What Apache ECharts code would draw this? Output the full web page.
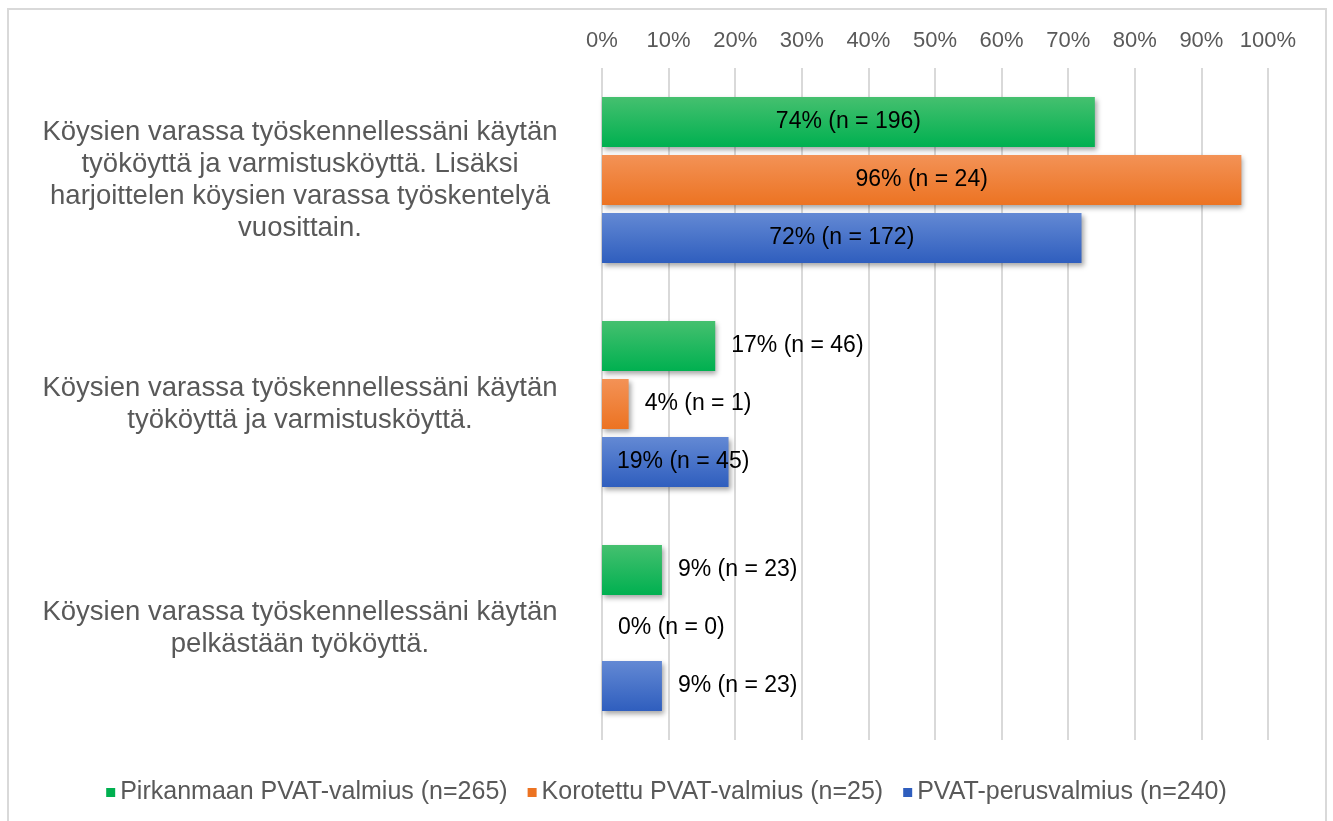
<!DOCTYPE html>
<html>
<head>
<meta charset="utf-8">
<script src="https://cdn.jsdelivr.net/npm/echarts@6/dist/echarts.min.js"></script>
<style>
  html, body { margin: 0; padding: 0; background: #fff; }
  #chart { width: 1333px; height: 821px; }
</style>
</head>
<body>
<div id="chart"></div>
<script>
// kategoriat (ylhäältä alas)
const categories = [
  "Köysien varassa työskennellessäni käytän\ntyököyttä ja varmistusköyttä. Lisäksi\nharjoittelen köysien varassa työskentelyä\nvuosittain.",
  "Köysien varassa työskennellessäni käytän\ntyököyttä ja varmistusköyttä.",
  "Köysien varassa työskennellessäni käytän\npelkästään työköyttä."
];
const seriesNames = [
  "Pirkanmaan PVAT-valmius (n=265)",
  "Korotettu PVAT-valmius (n=25)",
  "PVAT-perusvalmius (n=240)"
];
// prosentit
const pirkanmaaPct = [74, 17, 9];
const korotettuPct = [96, 4, 0];
const perusPct = [72, 19, 9];
// vastaajien lukumäärät
const pirkanmaaN = [196, 46, 23];
const korotettuN = [24, 1, 0];
const perusN = [172, 45, 23];
const xTicks = [0, 10, 20, 30, 40, 50, 60, 70, 80, 90, 100];

const gradients = [
  ["#45c06f", "#00b050"],
  ["#f39256", "#ec7322"],
  ["#6389d4", "#2f5ebe"]
];

function grad(c) {
  return new echarts.graphic.LinearGradient(0, 0, 0, 1, [
    { offset: 0, color: c[0] },
    { offset: 1, color: c[1] }
  ]);
}

// labelin paikka: iso palkki -> keskelle, pieni -> oikealle
function labelPos(v, si, ci) {
  if (v >= 50) return { position: "inside" };
  if (si === 2 && ci === 1) return { position: "insideLeft", distance: 15 };
  return { position: "right", distance: 16 };
}

const pcts = [pirkanmaaPct, korotettuPct, perusPct];
const ns = [pirkanmaaN, korotettuN, perusN];

const series = seriesNames.map((name, si) => ({
  name: name,
  type: "bar",
  barWidth: 50,
  barGap: "16%",
  itemStyle: {
    color: grad(gradients[si]),
    shadowColor: "rgba(0,0,0,0.35)",
    shadowBlur: 5,
    shadowOffsetX: 2,
    shadowOffsetY: 3
  },
  data: pcts[si].map((v, ci) => ({
    value: v,
    label: Object.assign({
      show: true,
      color: "#000",
      fontSize: 23,
      fontFamily: "Liberation Sans",
      formatter: v + "% (n = " + ns[si][ci] + ")"
    }, labelPos(v, si, ci))
  }))
}));

const myChart = echarts.init(document.getElementById("chart"));
myChart.setOption({
  animation: false,
  color: gradients.map(g => g[1]),
  textStyle: { fontFamily: "Liberation Sans" },
  graphic: [{
    type: "rect",
    shape: { x: 8, y: 9, width: 1318, height: 840 },
    style: { fill: "none", stroke: "#d9d9d9", lineWidth: 2 },
    silent: true
  }],
  grid: { left: 602, right: 65, top: 68, bottom: 81 },
  legend: {
    bottom: 11,
    left: "center",
    icon: "rect",
    itemWidth: 9,
    itemHeight: 9,
    itemGap: 20,
    textStyle: { color: "#595959", fontSize: 25 },
    data: seriesNames.map((n, i) => ({ name: n, itemStyle: { color: gradients[i][1] } }))
  },
  xAxis: {
    type: "value",
    position: "top",
    min: 0,
    max: 100,
    interval: 10,
    axisLine: { show: false },
    axisTick: { show: false },
    axisLabel: {
      color: "#595959",
      fontSize: 22,
      margin: 16,
      formatter: v => xTicks.includes(v) ? v + "%" : ""
    },
    splitLine: { lineStyle: { color: "#d9d9d9", width: 2 } }
  },
  yAxis: {
    type: "category",
    inverse: true,
    data: categories,
    axisLine: { show: false },
    axisTick: { show: false },
    axisLabel: {
      color: "#595959",
      fontSize: 27.5,
      lineHeight: 32,
      align: "center",
      margin: 302
    }
  },
  series: series
});
</script>
</body>
</html>
